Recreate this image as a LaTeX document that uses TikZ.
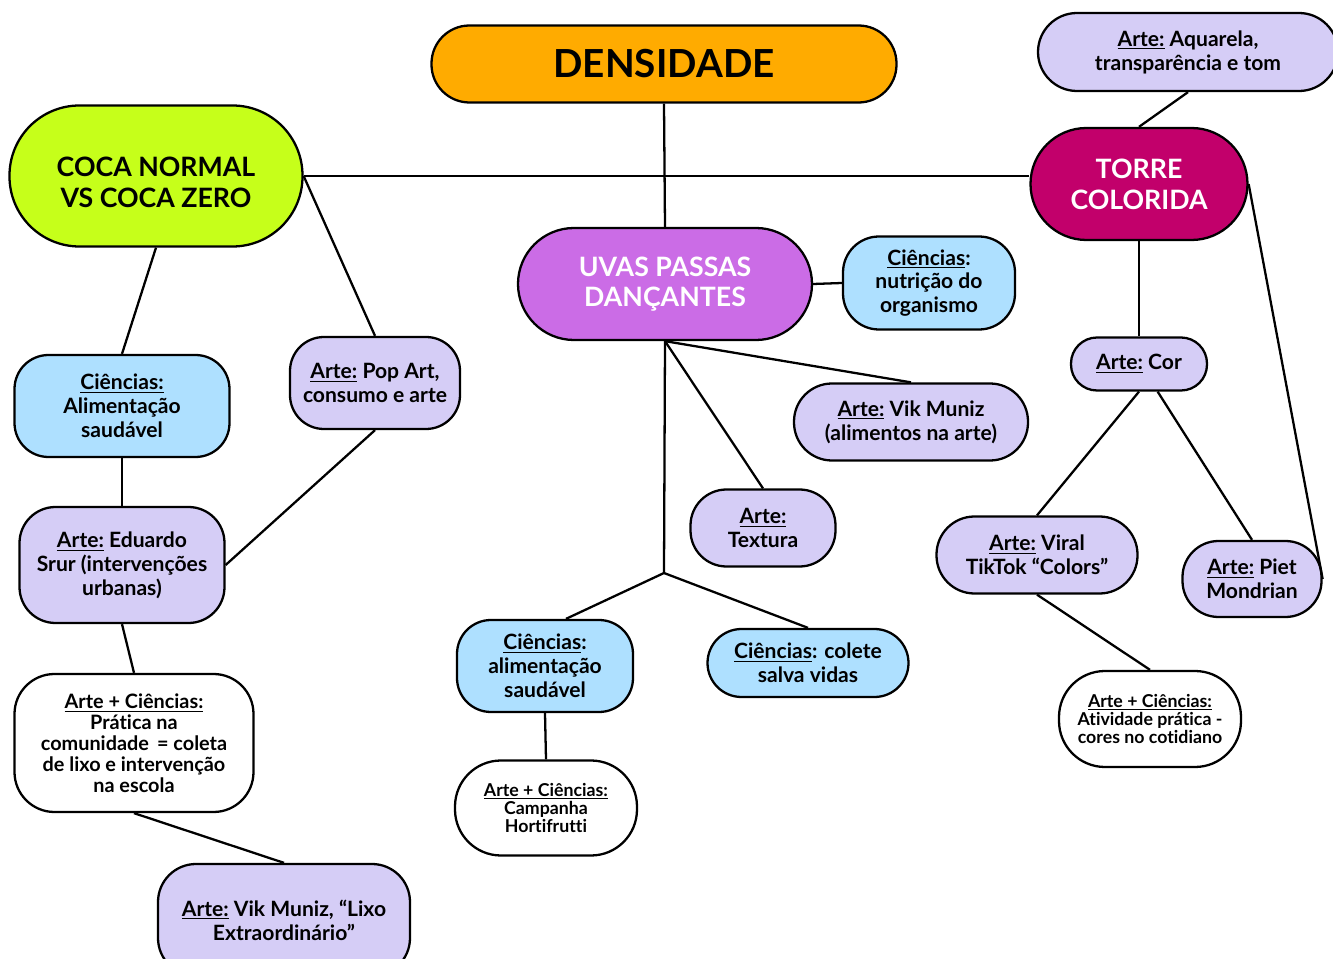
\documentclass[tikz,border=0pt]{standalone}
\usepackage{fontspec}
\setmainfont[Ligatures=NoCommon]{Lato}
\usetikzlibrary{positioning}

% cores do mapa
\definecolor{corDens}{HTML}{FFAB00}
\definecolor{corCoca}{HTML}{C6FF1A}
\definecolor{corTorre}{HTML}{C2006B}
\definecolor{corUvas}{HTML}{CB6CE6}
\definecolor{corArte}{HTML}{D5CDF6}
\definecolor{corCien}{HTML}{AEE0FF}

\def\px{0.02cm}

\tikzset{
  bolha/.style={draw=black, line width=1.3pt, align=center, inner sep=2pt, fill=corArte},
  tam/.style n args={3}{minimum width=#1*\px, minimum height=#2*\px, rounded corners=#3*\px},
  titulo/.style={font=\fontsize{15.2}{17.5}\selectfont\bfseries},
  texto/.style={font=\fontsize{12}{13.6}\selectfont\bfseries},
  textoP/.style={font=\fontsize{11.3}{11.9}\selectfont\bfseries},
  textoPP/.style={font=\fontsize{10.1}{10.5}\selectfont\bfseries},
  liga/.style={line width=1.3pt}
}

\begin{document}
\begin{tikzpicture}[x=0.02cm,y=-0.02cm]

  \useasboundingbox (0,0) rectangle (1333,959);
  \clip (0,0) rectangle (1333,959);

  % temas principais
  \node[bolha, tam={465}{77}{38}, fill=corDens, font=\fontsize{22}{25}\selectfont\bfseries] (dens) at (664,64) {DENSIDADE};
  \node[bolha, titulo, tam={293}{141}{70}, fill=corCoca] (coca) at (156,176) {\rule{0pt}{18pt}COCA NORMAL\\VS COCA ZERO};
  \node[bolha, titulo, tam={217}{112}{56}, fill=corTorre, text=white] (torre) at (1139,184) {TORRE\\COLORIDA};
  \node[bolha, titulo, tam={294}{112}{56}, fill=corUvas, text=white] (uvas) at (665,284) {UVAS PASSAS\\DANÇANTES};

  % torre colorida
  \node[bolha, texto, tam={300}{78}{39}] (aquarela) at (1188,52) {\underline{Arte:} Aquarela,\\transparência e tom};
  \node[bolha, texto, tam={136}{53}{26}] (cor) at (1139,364) {\underline{Arte:} Cor};
  \node[bolha, texto, tam={201}{77}{38}] (viral) at (1037,555) {\underline{Arte:} Viral\\TikTok “Colors”};
  \node[bolha, texto, tam={139}{76}{36}] (piet) at (1252,579) {\underline{Arte:} Piet\\Mondrian};
  \node[bolha, textoPP, tam={182}{96}{46}, fill=white] (atividade) at (1150,719) {\underline{Arte + Ciências:}\\Atividade prática -\\cores no cotidiano};

  % uvas passas
  \node[bolha, texto, tam={172}{93}{36}, fill=corCien] (nutricao) at (929,283) {\underline{Ciências}:\\nutrição do\\organismo};
  \node[bolha, texto, tam={234}{77}{38}] (vikalim) at (911,422) {\underline{Arte:} Vik Muniz\\(alimentos na arte)};
  \node[bolha, texto, tam={145}{77}{36}] (textura) at (763,528) {\underline{Arte:}\\Textura};
  \node[bolha, texto, tam={176}{92}{34}, fill=corCien] (alimmeio) at (545,666) {\underline{Ciências}:\\alimentação\\saudável};
  \node[bolha, texto, tam={201}{68}{34}, fill=corCien] (colete) at (808,663) {\underline{Ciências}: colete\\salva vidas};
  \node[bolha, textoPP, tam={182}{95}{46}, fill=white] (campanha) at (546,808) {\underline{Arte + Ciências:}\\Campanha\\Hortifrutti};
  \coordinate (garfo) at (664,573);

  % coca normal vs coca zero
  \node[bolha, texto, tam={215}{102}{34}, fill=corCien] (alimenta) at (122,406) {\underline{Ciências:}\\Alimentação\\saudável};
  \node[bolha, texto, tam={170}{92}{34}] (popart) at (375,383) {\underline{Arte:} Pop Art,\\consumo e arte};
  \node[bolha, texto, tam={205}{116}{36}] (srur) at (122,565) {\underline{Arte:} Eduardo\\Srur (intervenções\\urbanas)};
  \node[bolha, textoP, tam={239}{138}{40}, fill=white] (pratica) at (134,743) {\underline{Arte + Ciências:}\\Prática na\\comunidade \,= coleta\\de lixo e intervenção\\na escola};
  \node[bolha, texto, tam={252}{112}{38}] (lixo) at (284,920) {\underline{Arte:} Vik Muniz, “Lixo\\Extraordinário”};

  % ligacoes
  \draw[liga] (dens.south) -- (uvas.north);
  \draw[liga] (coca.east) -- (coca.east -| torre.west);
  \draw[liga] (aquarela.south) -- (torre.north);
  \draw[liga] (torre.south) -- (cor.north);
  \draw[liga] (torre.east) -- (piet.east);
  \draw[liga] (cor.south) -- (viral.north);
  \draw[liga] (cor.-56) -- (piet.north);
  \draw[liga] (viral.south) -- (atividade.north);

  \draw[liga] (uvas.east) -- (nutricao.west);
  \draw[liga] (uvas.south) -- (vikalim.north);
  \draw[liga] (uvas.south) -- (textura.north);
  \draw[liga] (uvas.south) -- (garfo);
  \draw[liga] (garfo) -- (alimmeio.66);
  \draw[liga] (garfo) -- (colete.north);
  \draw[liga] (alimmeio.south) -- (campanha.north);

  \draw[liga] (coca.south) -- (alimenta.north);
  \draw[liga] (coca.east) -- (popart.north);
  \draw[liga] (popart.south) -- (srur.east);
  \draw[liga] (alimenta.south) -- (srur.north);
  \draw[liga] (srur.south) -- (pratica.north);
  \draw[liga] (pratica.south) -- (lixo.north);

\end{tikzpicture}
\end{document}
